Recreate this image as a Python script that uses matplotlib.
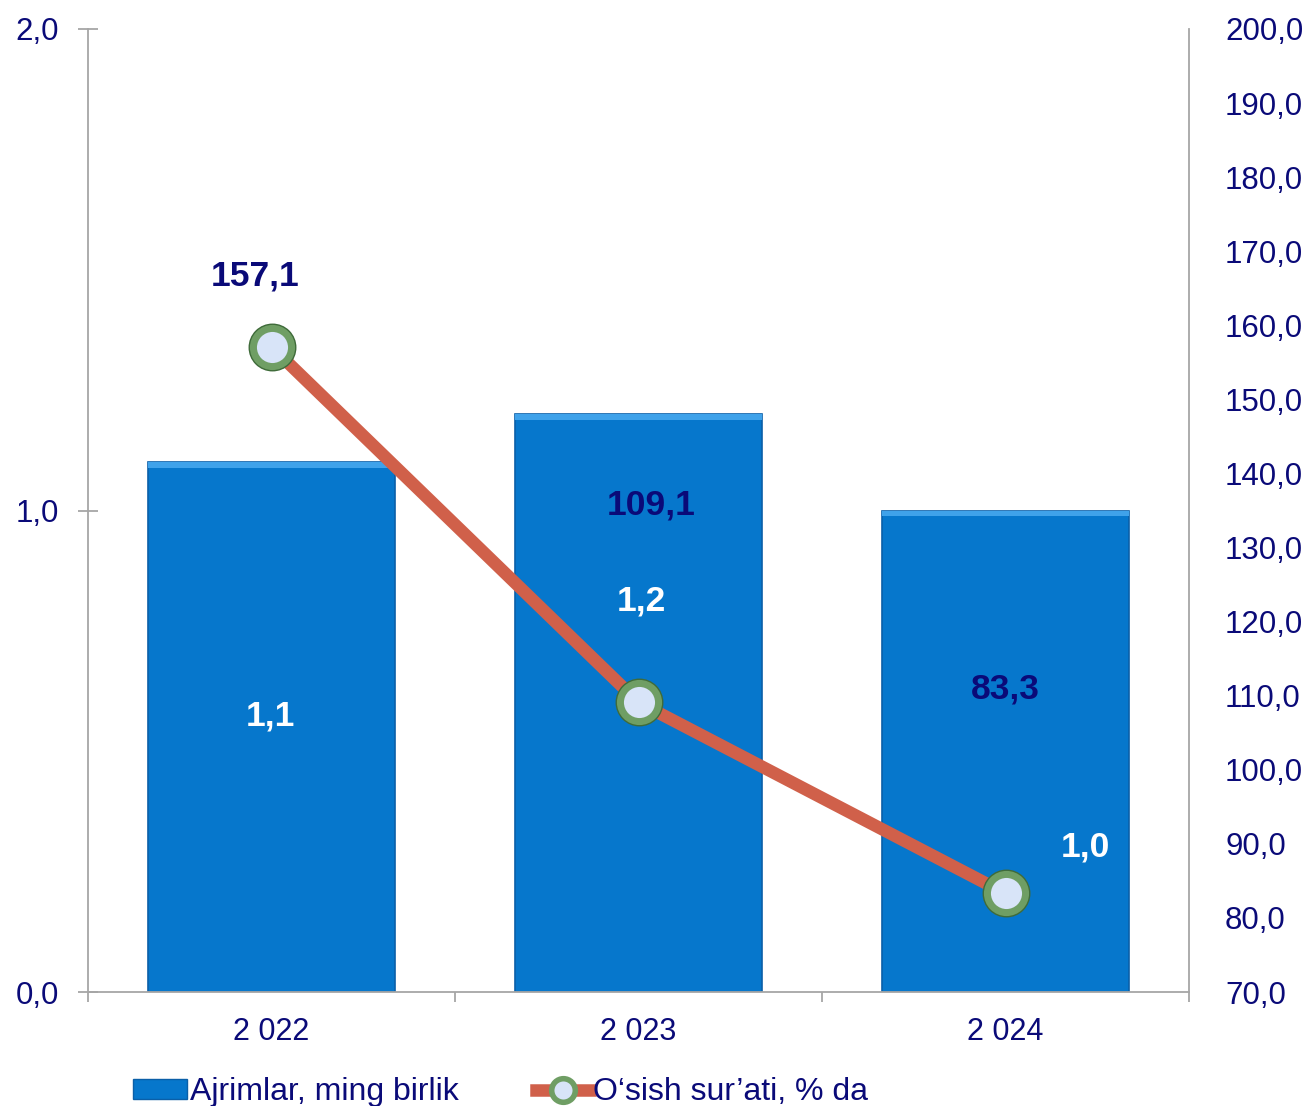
import matplotlib
matplotlib.use("Agg")
import matplotlib.pyplot as plt
from matplotlib.lines import Line2D
from matplotlib.patches import Patch

plt.rcParams['font.family'] = ['Liberation Sans', 'DejaVu Sans']

years = ["2 022", "2 023", "2 024"]
bars = [1.1, 1.2, 1.0]
bar_labels = ["1,1", "1,2", "1,0"]
growth = [157.1, 109.1, 83.3]
growth_labels = ["157,1", "109,1", "83,3"]
left_ticks = [0.0, 1.0, 2.0]
left_ticklabels = ["0,0", "1,0", "2,0"]
right_ticks = list(range(70, 201, 10))
right_ticklabels = [f"{v},0" for v in right_ticks]

NAVY = "#0A0A78"
BAR = "#0677CC"
LINE = "#D0604A"
GRAY = "#A6A6A6"

W, H = 1310, 1106
fig = plt.figure(figsize=(W/100, H/100), dpi=100)
ax = fig.add_axes([88/W, (H-992)/H, (1189-88)/W, (992-29)/H])
x = list(range(len(years)))

ax.bar(x, bars, width=0.672, color=BAR, edgecolor="#0A5FA8", linewidth=1.2, zorder=2)
# light top highlight of the bars
ax.bar(x, [0.012]*3, bottom=[b - 0.012 for b in bars], width=0.672, color="#3FA2EA",
       linewidth=0, zorder=2.1)
ax.set_xlim(-0.5, 2.5)
ax.set_ylim(0, 2)
ax.set_yticks(left_ticks)
ax.set_yticklabels(left_ticklabels)
ax.set_xticks(x)
ax.set_xticklabels(years)
ax.set_xticks([-0.5, 0.5, 1.5, 2.5], minor=True)
ax.tick_params(axis='x', which='major', length=0, pad=18, labelsize=22, labelcolor=NAVY)
ax.tick_params(axis='x', which='minor', length=7, width=1.3, color=GRAY, direction='out')
ax.tick_params(axis='y', length=14, width=1.3, color=GRAY, direction='inout', pad=14,
               labelsize=22.5, labelcolor=NAVY)
for s in ['top', 'right']:
    ax.spines[s].set_visible(False)
for s in ['left', 'bottom']:
    ax.spines[s].set_color(GRAY)
    ax.spines[s].set_linewidth(1.3)

# bar labels
bar_offsets = [(-1, -254), (3, -187), (80, -337)]
for xi, v, lab, off in zip(x, bars, bar_labels, bar_offsets):
    ax.annotate(lab, (xi, v), xytext=off, textcoords='offset pixels', ha='center', va='center',
                color='white', fontsize=25.5, fontweight='bold', zorder=5)

ax2 = ax.twinx()
ax2.set_ylim(70, 200)
ax2.set_yticks(right_ticks)
ax2.set_yticklabels(right_ticklabels)
ax2.tick_params(axis='y', length=0, pad=26, labelsize=22.5, labelcolor=NAVY)
for s in ['top', 'left', 'bottom']:
    ax2.spines[s].set_visible(False)
ax2.spines['right'].set_color(GRAY)
ax2.spines['right'].set_linewidth(1.3)

ax2.plot(x, growth, color=LINE, linewidth=9, solid_capstyle='butt', zorder=3)
ax2.plot(x, growth, linestyle='none', marker='o', markersize=28, markerfacecolor='#D8E4F8',
         markeredgecolor='#6F9E64', markeredgewidth=5.6, zorder=4)
ax2.plot(x, growth, linestyle='none', marker='o', markersize=33.5, markerfacecolor='none',
         markeredgecolor='#3F6B3A', markeredgewidth=1.0, zorder=4)

g_offsets = [(-16, 71), (13, 197), (0, 204)]
for xi, v, lab, off in zip(x, growth, growth_labels, g_offsets):
    ax2.annotate(lab, (xi, v), xytext=off, textcoords='offset pixels', ha='center', va='center',
                 color=NAVY, fontsize=25.5, fontweight='bold', zorder=5)

handles = [Patch(facecolor=BAR, edgecolor="#0A5FA8"),
           Line2D([0], [0], color=LINE, linewidth=9, marker='o', markersize=17,
                  markerfacecolor='#D8E4F8', markeredgecolor='#6F9E64', markeredgewidth=4)]
fig.legend(handles, ["Ajrimlar, ming birlik", "O‘sish sur’ati, % da"], loc='lower left',
           bbox_to_anchor=(104/W, -30/H), ncol=2, frameon=False, fontsize=23,
           labelcolor=NAVY, handlelength=1.7, handletextpad=0.1, columnspacing=2.4,
           handleheight=0.6)

fig.savefig("out.png", dpi=100)
